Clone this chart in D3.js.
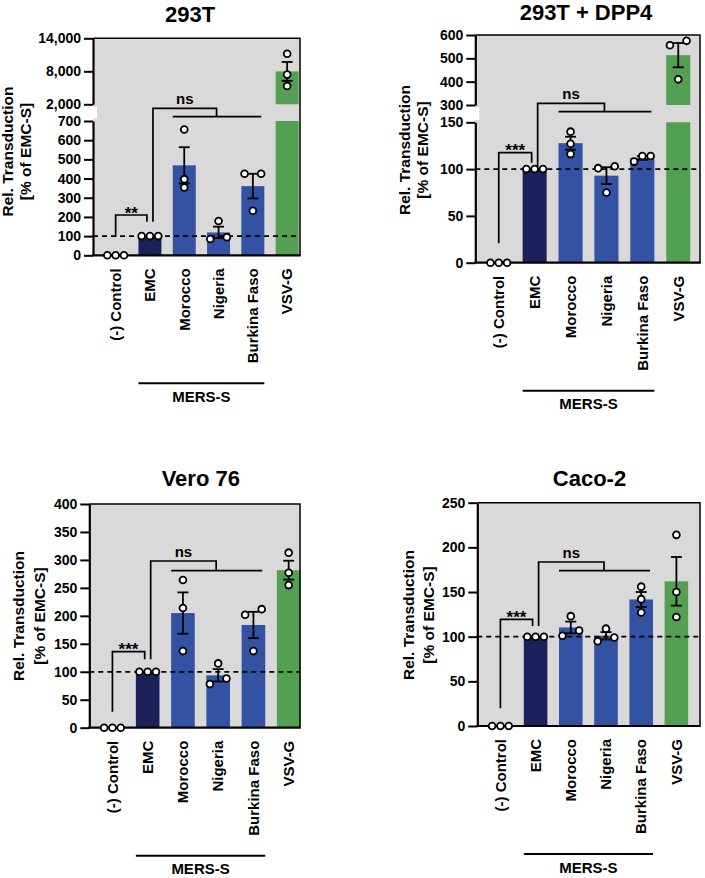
<!DOCTYPE html>
<html><head><meta charset="utf-8">
<script src="https://cdn.jsdelivr.net/npm/d3@7"></script>
<style>
body{margin:0;background:#fff}
svg{display:block}
text{font-family:"Liberation Sans",Arial,Helvetica,sans-serif;font-weight:bold;fill:#000}
</style>
</head><body>
<svg id="chart" width="705" height="878"></svg>
<script>
// ---------- DATA ----------
const categories = ["(-) Control", "EMC", "Morocco", "Nigeria", "Burkina Faso", "VSV-G"];
const groupLabel = "MERS-S";
const yLabel1 = "Rel. Transduction";
const yLabel2 = "[% of EMC-S]";
const titles = ["293T", "293T + DPP4", "Vero 76", "Caco-2"];

// replicate values (% of EMC-S), one inner array per category
const reps293T   = [[0,0,0],[100,100,100],[656,397,354],[179,85,94],[425,425,232],[11200,7400,5350]];
const repsDPP4   = [[0,0,0],[100,100,100],[140,127,116],[101,103,75],[108,114,114],[556,575,410]];
const repsVero   = [[0,0,0],[100,100,100],[264,214,137],[115,78,88],[202,212,137],[313,277,255]];
const repsCaco   = [[0,0,0],[100,100,100],[123,101,107],[109,95,99],[156,142,127],[214,150,122]];

// axis ticks
const ticks293TLow  = [0,100,200,300,400,500,600,700];
const ticks293THigh = [2000,8000,14000];
const ticksDPP4Low  = [0,50,100,150];
const ticksDPP4High = [300,400,500,600];
const ticksVero     = [0,50,100,150,200,250,300,350,400];
const ticksCaco     = [0,50,100,150,200,250];

const sigStars = ["**", "***", "***", "***"];
const sigNs = "ns";

// ---------- STYLE ----------
const colors = {
  "(-) Control": "none",
  "EMC": "#1b225b",
  "Morocco": "#3452a4",
  "Nigeria": "#3452a4",
  "Burkina Faso": "#3452a4",
  "VSV-G": "#53a053"
};
const bg = "#d9d9d9";

// ---------- LAYOUT ----------
const panels = [
  {title: titles[0], reps: reps293T, left: 93, right: 300, top: 38.3, bottom: 255.3, step: 34.3,
   low: {domain:[0,700], range:[255.3,121], ticks: ticks293TLow},
   high: {domain:[2000,14000], range:[104.3,38.3], ticks: ticks293THigh},
   titleX: 190, titleY: 21.7, yl1: 8, yl2: 25.5, ylY: 151.5,
   stars: sigStars[0], starBot: 236.7, starTop: 215, starEnd: 221.7,
   nsBot: 221.7, nsTop: 108.3, nsEnd: 116.7},
  {title: titles[1], reps: repsDPP4, left: 475.3, right: 700, top: 35, bottom: 262.7, step: 35.9,
   low: {domain:[0,150], range:[262.7,122.3], ticks: ticksDPP4Low},
   high: {domain:[300,600], range:[105,35], ticks: ticksDPP4High},
   titleX: 586, titleY: 19.5, yl1: 405, yl2: 423, ylY: 150,
   stars: sigStars[1], starBot: 243.3, starTop: 152.7, starEnd: 162.7,
   nsBot: 166.7, nsTop: 103.3, nsEnd: 111.7},
  {title: titles[2], reps: repsVero, left: 89.3, right: 300, top: 504, bottom: 727.7, step: 35.25,
   low: {domain:[0,400], range:[727.7,504], ticks: ticksVero},
   high: null,
   titleX: 200.8, titleY: 486, yl1: 19, yl2: 40, ylY: 616,
   stars: sigStars[2], starBot: 711.7, starTop: 651.7, starEnd: 659.3,
   nsBot: 659.3, nsTop: 561, nsEnd: 570.7},
  {title: titles[3], reps: repsCaco, left: 477.3, right: 700, top: 502.7, bottom: 726, step: 35.2,
   low: {domain:[0,250], range:[726,502.7], ticks: ticksCaco},
   high: null,
   titleX: 589.5, titleY: 486, yl1: 409, yl2: 429, ylY: 615,
   stars: sigStars[3], starBot: 708.3, starTop: 619.3, starEnd: 626,
   nsBot: 626, nsTop: 562, nsEnd: 570.7}
];

const svg = d3.select("#chart");
const fmt = d3.format(",");

panels.forEach(P => {
  const g = svg.append("g");
  const yLow = d3.scaleLinear().domain(P.low.domain).range(P.low.range);
  const yHigh = P.high ? d3.scaleLinear().domain(P.high.domain).range(P.high.range) : null;
  const lowMax = P.low.domain[1];
  const yPix = v => (yHigh && v > lowMax) ? yHigh(v) : yLow(v);

  const x = d3.scaleBand().domain(categories)
    .range([P.left + 5.5, P.left + 5.5 + 6 * P.step])
    .paddingInner(0.33).paddingOuter(0.165);
  const bw = x.bandwidth();
  const cx = c => x(c) + bw / 2;

  // background
  g.append("rect").attr("x", P.left).attr("y", P.top)
    .attr("width", P.right - P.left).attr("height", P.bottom - P.top).attr("fill", bg);

  // stats
  const stats = categories.map((c, i) => {
    const r = P.reps[i];
    const m = d3.mean(r);
    const sem = d3.deviation(r) / Math.sqrt(r.length);
    return {c, r, m, sem: isNaN(sem) ? 0 : sem};
  });

  // bars
  stats.forEach(s => {
    if (colors[s.c] === "none" || s.m <= 0) return;
    if (yHigh && s.m > lowMax) {
      g.append("rect").attr("x", x(s.c)).attr("width", bw)
        .attr("y", yLow(lowMax)).attr("height", yLow(0) - yLow(lowMax)).attr("fill", colors[s.c]);
      g.append("rect").attr("x", x(s.c)).attr("width", bw)
        .attr("y", yHigh(s.m)).attr("height", yHigh(P.high.domain[0]) - yHigh(s.m)).attr("fill", colors[s.c]);
    } else {
      g.append("rect").attr("x", x(s.c)).attr("width", bw)
        .attr("y", yLow(s.m)).attr("height", yLow(0) - yLow(s.m)).attr("fill", colors[s.c]);
    }
  });

  // dashed reference at 100
  g.append("line").attr("x1", P.left).attr("x2", P.right)
    .attr("y1", yLow(100)).attr("y2", yLow(100))
    .attr("stroke", "#000").attr("stroke-width", 1.7).attr("stroke-dasharray", "5,4");

  // error bars
  stats.forEach(s => {
    if (s.sem <= 0) return;
    const X = cx(s.c), y1 = yPix(s.m + s.sem), y2 = yPix(Math.max(0, s.m - s.sem));
    g.append("line").attr("x1", X).attr("x2", X).attr("y1", y1).attr("y2", y2)
      .attr("stroke", "#000").attr("stroke-width", 1.8);
    [y1, y2].forEach(yy => g.append("line").attr("x1", X - 5.5).attr("x2", X + 5.5)
      .attr("y1", yy).attr("y2", yy).attr("stroke", "#000").attr("stroke-width", 1.8));
  });

  // frame: top & right
  g.append("path")
    .attr("d", `M${P.left},${P.top}H${P.right}V${P.bottom}`)
    .attr("fill", "none").attr("stroke", "#000").attr("stroke-width", 1.5);

  // y axes
  const axLow = g.append("g").attr("transform", `translate(${P.left},0)`)
    .call(d3.axisLeft(yLow).tickValues(P.low.ticks).tickFormat(fmt).tickSize(9).tickPadding(3).tickSizeOuter(0));
  const axes = [axLow];
  if (yHigh) {
    // small white notch at the break
    g.append("rect").attr("x", P.left - 1).attr("y", P.high.range[0] + 2.5)
      .attr("width", 5).attr("height", P.low.range[1] - P.high.range[0] - 5).attr("fill", "#fff");
    axes.push(g.append("g").attr("transform", `translate(${P.left},0)`)
      .call(d3.axisLeft(yHigh).tickValues(P.high.ticks).tickFormat(fmt).tickSize(9).tickPadding(3).tickSizeOuter(0)));
  }
  axes.forEach(a => {
    a.select(".domain").attr("stroke-width", 2.2);
    a.selectAll(".tick line").attr("stroke-width", 2);
    a.selectAll("text").style("font-size", "14px").style("font-family", '"Liberation Sans",Arial,sans-serif').style("font-weight", "bold");
  });

  // x axis line
  g.append("line").attr("x1", P.left - 1).attr("x2", P.right + 0.75)
    .attr("y1", P.bottom).attr("y2", P.bottom).attr("stroke", "#000").attr("stroke-width", 2.2);

  // significance brackets
  const line = (pts) => g.append("path").attr("d", d3.line()(pts))
    .attr("fill", "none").attr("stroke", "#000").attr("stroke-width", 1.7);
  const sx1 = cx("(-) Control"), sx2 = cx("EMC") - 3;
  line([[sx1, P.starBot], [sx1, P.starTop], [sx2, P.starTop], [sx2, P.starEnd]]);
  g.append("text").attr("x", (sx1 + sx2) / 2).attr("y", P.starTop + 3.5)
    .attr("text-anchor", "middle").style("font-size", "17px").text(P.stars);
  const nx1 = cx("EMC") + 3, nx2 = cx("Nigeria") - 2;
  line([[nx1, P.nsBot], [nx1, P.nsTop], [nx2, P.nsTop], [nx2, P.nsEnd]]);
  line([[x("Morocco"), P.nsEnd], [x("Burkina Faso") + bw - 3, P.nsEnd]]);
  g.append("text").attr("x", (nx1 + nx2) / 2).attr("y", P.nsTop - 4)
    .attr("text-anchor", "middle").style("font-size", "15px").text(sigNs);

  // points (simple swarm: close values share a row and spread sideways)
  const d = 8.3;
  stats.forEach(s => {
    const pts = s.r.map(v => ({v, y: yPix(v)})).sort((a, b) => a.y - b.y);
    const groups = [];
    pts.forEach(p => {
      const gr = groups[groups.length - 1];
      if (gr && Math.abs(p.y - gr[0].y) < 7) gr.push(p); else groups.push([p]);
    });
    groups.forEach(gr => {
      gr.sort((a, b) => a.v - b.v);
      const offs = gr.length === 1 ? [0] : gr.length === 2 ? [-d, d] : gr.map((_, i) => (i - (gr.length - 1) / 2) * d);
      gr.forEach((p, i) => {
        g.append("circle").attr("cx", cx(s.c) + offs[i]).attr("cy", p.y).attr("r", 3.4)
          .attr("fill", "#fff").attr("stroke", "#000").attr("stroke-width", 1.8);
      });
    });
  });

  // category labels
  categories.forEach(c => {
    g.append("text")
      .attr("transform", `translate(${cx(c)},${P.bottom + 13}) rotate(-90)`)
      .attr("text-anchor", "end").attr("dy", "0.35em")
      .style("font-size", "15px").text(c);
  });

  // MERS-S group
  const gx1 = x("EMC"), gx2 = x("Burkina Faso") + bw;
  g.append("line").attr("x1", gx1).attr("x2", gx2)
    .attr("y1", P.bottom + 128).attr("y2", P.bottom + 128)
    .attr("stroke", "#000").attr("stroke-width", 2);
  g.append("text").attr("x", (gx1 + gx2) / 2).attr("y", P.bottom + 146.5)
    .attr("text-anchor", "middle").style("font-size", "15px").text(groupLabel);

  // title
  g.append("text").attr("x", P.titleX).attr("y", P.titleY)
    .attr("text-anchor", "middle").style("font-size", "22px").text(P.title);

  // y label
  [[yLabel1, P.yl1], [yLabel2, P.yl2]].forEach(([t, xx]) => {
    g.append("text").attr("transform", `translate(${xx},${P.ylY}) rotate(-90)`)
      .attr("text-anchor", "middle").attr("dy", "0.35em")
      .style("font-size", "15.5px").text(t);
  });
});
</script>
</body></html>
